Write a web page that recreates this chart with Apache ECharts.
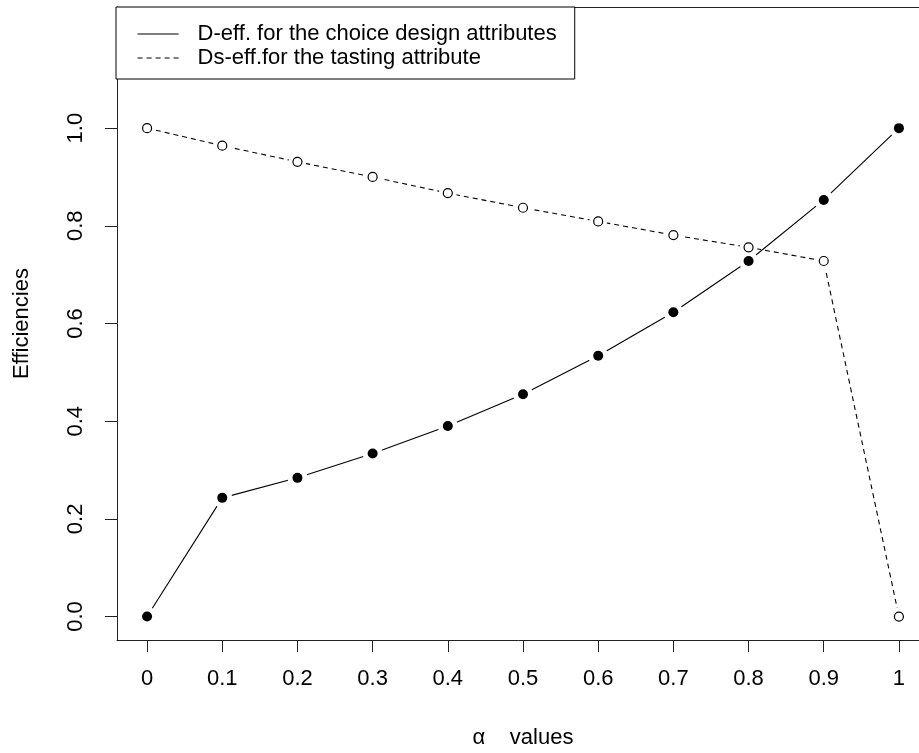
<!DOCTYPE html>
<html>
<head>
<meta charset="utf-8">
<title>Efficiencies vs alpha</title>
<script src="https://cdn.jsdelivr.net/npm/echarts@6/dist/echarts.min.js"></script>
<style>
  html, body { margin: 0; padding: 0; background: #fff; }
  #chart { width: 919px; height: 753px; }
</style>
</head>
<body>
<div id="chart"></div>
<script>
// alpha weights on the x axis
const alphaValues = [0, 0.1, 0.2, 0.3, 0.4, 0.5, 0.6, 0.7, 0.8, 0.9, 1];
// D-efficiency of the choice design attributes
const dEff = [0, 0.243, 0.284, 0.334, 0.390, 0.455, 0.534, 0.623, 0.728, 0.853, 1.0];
// Ds-efficiency of the tasting attribute
const dsEff = [1.0, 0.964, 0.931, 0.900, 0.867, 0.837, 0.809, 0.781, 0.756, 0.728, 0.0];

const xTicks = [0, 0.1, 0.2, 0.3, 0.4, 0.5, 0.6, 0.7, 0.8, 0.9, 1];
const yTicks = [0, 0.2, 0.4, 0.6, 0.8, 1.0];

const seriesNames = [
  'D-eff. for the choice design attributes',
  'Ds-eff.for the tasting attribute'
];

const FONT = 'Liberation Sans, Arial, sans-serif';
const INK = '#000';
const AXIS = '#222';

const pairs = (ys) => alphaValues.map((x, i) => [x, ys[i]]);

// point layer helper: opaque scatter marks drawn over the lines
const points = (ys, size, style, z) => ({
  type: 'scatter',
  data: pairs(ys),
  symbol: 'circle',
  symbolSize: size,
  itemStyle: Object.assign({ opacity: 1 }, style),
  emphasis: { disabled: true },
  silent: true,
  z: z
});

const chart = echarts.init(document.getElementById('chart'), null, { renderer: 'canvas' });

chart.setOption({
  animation: false,
  backgroundColor: '#fff',
  grid: {
    left: 117, top: 7, width: 812, height: 633,
    containLabel: false, outerBoundsMode: 'none'
  },
  xAxis: [{
    type: 'value',
    position: 'bottom',
    min: -0.04, max: 1.04,
    axisLine: { show: true, onZero: false, lineStyle: { color: AXIS, width: 1 } },
    axisTick: { show: true, customValues: xTicks, length: 12, lineStyle: { color: AXIS, width: 1 } },
    axisLabel: {
      customValues: xTicks, margin: 28, fontSize: 22, color: INK, fontFamily: FONT,
      formatter: (v) => String(v)
    },
    splitLine: { show: false },
    name: 'α    values',
    nameLocation: 'middle',
    nameGap: 87,
    nameTextStyle: { fontSize: 22, color: INK, fontFamily: FONT }
  }, {
    type: 'value',
    position: 'top',
    min: -0.04, max: 1.04,
    axisLine: { show: true, onZero: false, lineStyle: { color: AXIS, width: 1 } },
    axisTick: { show: false },
    axisLabel: { show: false },
    splitLine: { show: false }
  }],
  yAxis: {
    type: 'value',
    min: -0.048, max: 1.248,
    axisLine: { show: true, onZero: false, lineStyle: { color: AXIS, width: 1 } },
    axisTick: { show: true, customValues: yTicks, length: 12, lineStyle: { color: AXIS, width: 1 } },
    axisLabel: {
      customValues: yTicks, rotate: 90, margin: 30, fontSize: 22, color: INK, fontFamily: FONT,
      formatter: (v) => v.toFixed(1)
    },
    splitLine: { show: false },
    name: 'Efficiencies',
    nameLocation: 'middle',
    nameGap: 84,
    nameTextStyle: { fontSize: 22, color: INK, fontFamily: FONT }
  },
  legend: {
    left: 116, top: 7,
    orient: 'vertical',
    itemGap: 0,
    itemWidth: 41,
    itemHeight: 14,
    padding: [15, 18, 9, 21],
    borderColor: '#000',
    borderWidth: 1,
    backgroundColor: '#fff',
    selectedMode: false,
    z: 10,
    textStyle: { fontSize: 22, lineHeight: 24, color: INK, fontFamily: FONT, padding: [0, 0, 0, 14] },
    data: [
      { name: seriesNames[0], lineStyle: { color: '#000', width: 1.2, type: 'solid' }, itemStyle: { opacity: 0 } },
      { name: seriesNames[1], lineStyle: { color: '#000', width: 1.2, type: [5, 4] }, itemStyle: { opacity: 0 } }
    ]
  },
  series: [{
    name: seriesNames[0],
    type: 'line',
    data: pairs(dEff),
    showSymbol: false,
    symbol: 'circle',
    lineStyle: { color: '#000', width: 1.1 },
    emphasis: { disabled: true },
    z: 2
  }, {
    name: seriesNames[1],
    type: 'line',
    data: pairs(dsEff),
    showSymbol: false,
    symbol: 'circle',
    lineStyle: { color: '#000', width: 1.1, type: [5, 4] },
    emphasis: { disabled: true },
    z: 2
  },
    // white discs that break the lines around each point
    points(dEff, 20, { color: '#fff' }, 3),
    points(dsEff, 18, { color: '#fff' }, 3),
    // filled and open point markers
    points(dEff, 10, { color: '#000' }, 4),
    points(dsEff, 9, { color: '#fff', borderColor: '#000', borderWidth: 1.2 }, 4)
  ]
});
</script>
</body>
</html>
